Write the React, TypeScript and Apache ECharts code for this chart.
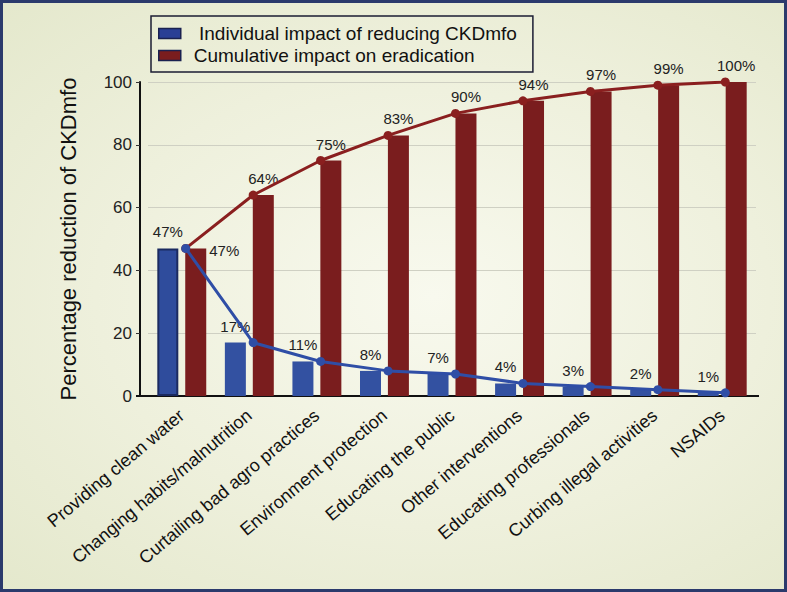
import React, { useEffect, useRef } from "react";
import * as echarts from "echarts";

const categories = [
  "Providing clean water",
  "Changing habits/malnutrition",
  "Curtailing bad agro practices",
  "Environment protection",
  "Educating the public",
  "Other interventions",
  "Educating professionals",
  "Curbing illegal activities",
  "NSAIDs",
];
const individualImpact = [47, 17, 11, 8, 7, 4, 3, 2, 1];
const cumulativeImpact = [47, 64, 75, 83, 90, 94, 97, 99, 100];
const legendNames = [
  "Individual impact of reducing CKDmfo",
  "Cumulative impact on eradication",
];
const yAxisTitle = "Percentage reduction of CKDmfo";

const BLUE = "#3351a1";
const BLUE_LINE = "#2f4ea6";
const RED = "#7a1d1e";
const RED_LINE = "#8a1f1f";
const FONT = "'Liberation Sans', Arial, sans-serif";

export default function App() {
  const ref = useRef<HTMLDivElement>(null);
  useEffect(() => {
    if (!ref.current) return;
    const chart = echarts.init(ref.current, undefined, { renderer: "svg" });
    chart.setOption({
      animation: false,
      textStyle: { fontFamily: FONT },
      grid: [
        { left: 148, right: 31, top: 82, bottom: 196 },
        { left: 152, right: 28, top: 82, bottom: 196 },
      ],
      legend: {
        orient: "vertical",
        left: 151,
        top: 16,
        padding: [7, 16, 6, 7],
        itemGap: 1,
        itemWidth: 22,
        itemHeight: 10,
        icon: "rect",
        borderColor: "#1b1d33",
        borderWidth: 1.5,
        borderRadius: 0,
        textStyle: { fontSize: 19, lineHeight: 21, color: "#111", fontFamily: FONT, padding: [0, 0, 0, 8] },
        formatter: (n: string) => (n === legendNames[0] ? " " + n : n),
        data: [
          { name: legendNames[0], itemStyle: { color: "#2a3f95", borderColor: "#1a2150", borderWidth: 1.5 } },
          { name: legendNames[1], itemStyle: { color: RED, borderColor: "#1a2150", borderWidth: 1.5 } },
        ],
      },
      xAxis: [
        {
          type: "category",
          data: categories,
          axisLine: { lineStyle: { color: "#111", width: 2 } },
          axisTick: { show: false },
          axisLabel: { rotate: 40, fontSize: 18, color: "#111", margin: 17, interval: 0, fontFamily: FONT },
        },
        {
          gridIndex: 1,
          type: "category",
          data: categories,
          show: false,
        },
      ],
      yAxis: [
        {
          type: "value",
          min: 0,
          max: 100,
          interval: 20,
          offset: 8,
          name: yAxisTitle,
          nameLocation: "middle",
          nameGap: 61,
          nameTextStyle: { fontSize: 22, color: "#111", fontFamily: FONT },
          axisLine: { show: true, lineStyle: { color: "#111", width: 2 } },
          axisTick: { show: true, length: 4, lineStyle: { color: "#333" } },
          axisLabel: { fontSize: 17, color: "#222", margin: 8, fontFamily: FONT },
          splitLine: { show: true, lineStyle: { color: "#cfd0c3", width: 1 } },
        },
        {
          gridIndex: 1,
          type: "value",
          min: 0,
          max: 100,
          interval: 20,
          show: false,
          splitLine: { show: false },
        },
      ],
      series: [
        {
          name: legendNames[0],
          type: "bar",
          barWidth: 21,
          barGap: "33%",
          itemStyle: { color: BLUE },
          data: individualImpact.map((v, i) =>
            i === 0 ? { value: v, itemStyle: { color: "#2f4c9c", borderColor: "#1b2a60", borderWidth: 2 } } : v
          ),
          label: {
            show: true,
            position: "top",
            distance: 9,
            formatter: "{c}%",
            fontSize: 15,
            color: "#222",
            fontFamily: FONT,
          },
          z: 2,
        },
        {
          name: legendNames[1],
          type: "bar",
          barWidth: 21,
          itemStyle: { color: RED },
          data: cumulativeImpact.map((v, i) =>
            i === 0
              ? { value: v, label: { position: [24, 2], align: "left", verticalAlign: "middle" } }
              : v
          ),
          label: {
            show: true,
            position: "top",
            distance: 9,
            formatter: "{c}%",
            fontSize: 15,
            color: "#222",
            fontFamily: FONT,
          },
          z: 2,
        },
        {
          name: "cumulative-line",
          type: "line",
          xAxisIndex: 1,
          yAxisIndex: 1,
          data: cumulativeImpact,
          symbol: "circle",
          symbolSize: 9,
          lineStyle: { color: RED_LINE, width: 3 },
          itemStyle: { color: RED_LINE },
          z: 4,
        },
        {
          name: "individual-line",
          type: "line",
          xAxisIndex: 1,
          yAxisIndex: 1,
          data: individualImpact,
          symbol: "circle",
          symbolSize: 9,
          lineStyle: { color: BLUE_LINE, width: 3 },
          itemStyle: { color: BLUE_LINE },
          z: 5,
        },
      ],
      graphic: [
        {
          type: "line",
          shape: { x1: 136, y1: 396, x2: 149, y2: 396 },
          style: { stroke: "#111", lineWidth: 2 },
          z: 10,
        },
        {
          type: "line",
          shape: { x1: 754, y1: 396, x2: 759, y2: 396 },
          style: { stroke: "#111", lineWidth: 2 },
          z: 10,
        },
        {
          type: "rect",
          shape: { x: 1.5, y: 1.5, width: 784, height: 589 },
          style: { fill: "none", stroke: "#2b3a6c", lineWidth: 3 },
          z: 10,
        },
      ],
    });
    return () => chart.dispose();
  }, []);
  return (
    <div
      style={{
        position: "absolute",
        left: 0,
        top: 0,
        width: 787,
        height: 592,
        background: "radial-gradient(ellipse at 55% 50%, #f8f9ee 0%, #eef0dc 55%, #e4e8cc 100%)",
      }}
    >
      <div ref={ref} style={{ width: 787, height: 592 }} />
    </div>
  );
}
